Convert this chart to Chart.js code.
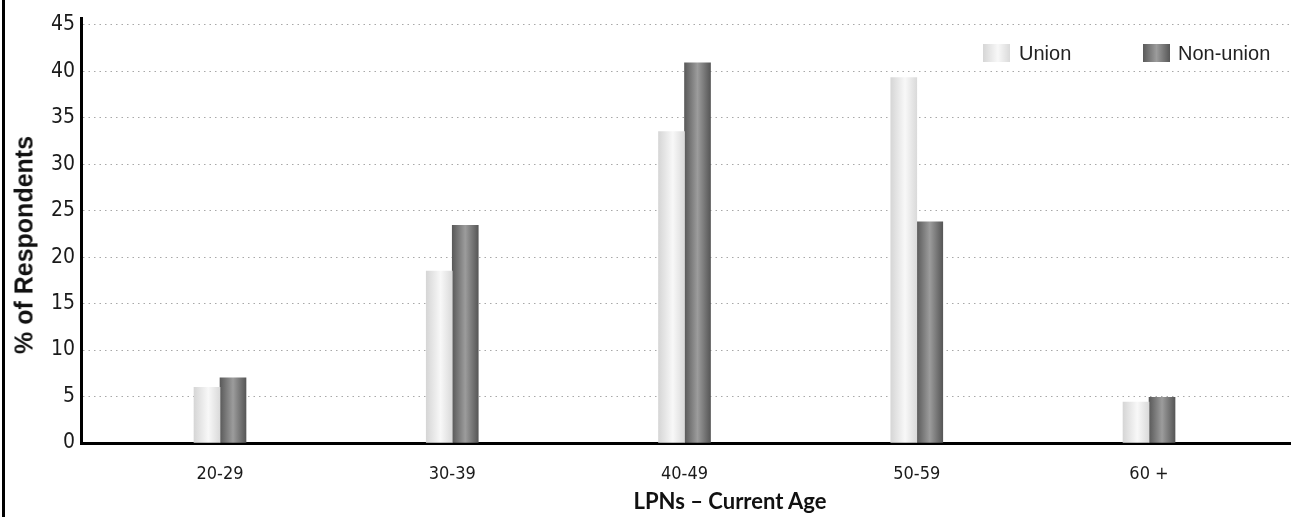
<!DOCTYPE html>
<html>
<head>
<meta charset="utf-8">
<script src="https://cdn.jsdelivr.net/npm/chart.js@4.4.0/dist/chart.umd.min.js"></script>
<style>
  body { margin: 0; background: #fff; }
  #wrap { position: relative; width: 1292px; height: 517px; }
  #chart { display: block; }
  #edge { position: absolute; left: 2px; top: 0; width: 3px; height: 517px; background: #000; }
  .lg-box { position: absolute; width: 27px; height: 18px; }
  .lg-txt { position: absolute; font: 20px 'Liberation Sans', sans-serif; color: #222; line-height: 20px; white-space: nowrap; }
  .ax-title { position: absolute; font: bold 22px Lato, 'Liberation Sans', sans-serif; color: #111; white-space: nowrap; transform: translate(-50%, -50%); }
  #yTitle { font: bold 25px 'Liberation Sans', sans-serif; transform: translate(-50%, -50%) rotate(-90deg); }
</style>
</head>
<body>
<div id="wrap">
  <canvas id="chart" width="1292" height="517"></canvas>
  <div id="edge"></div>
  <div id="legend"></div>
  <div class="ax-title" id="xTitle" style="left:730px; top:500px">LPNs – Current Age</div>
  <div class="ax-title" id="yTitle" style="left:24px; top:245px">% of Respondents</div>
</div>
<script>
const ageGroups = ['20-29', '30-39', '40-49', '50-59', '60 +']
const unionValues = [6.0, 18.5, 33.5, 39.3, 4.4]
const nonUnionValues = [7.0, 23.4, 40.9, 23.8, 4.9]
const seriesNames = ['Union', 'Non-union']
const yTicks = [0, 5, 10, 15, 20, 25, 30, 35, 40, 45]

const barW = 26
const gradStops = [
    [[0, '#d6d6d6'], [0.55, '#f8f8f8'], [1, '#dadada']],
    [[0, '#5a5a5a'], [0.5, '#9c9c9c'], [1, '#575757']]
]
const tickFont = "'Liberation Sans Narrow', 'DejaVu Sans Condensed', sans-serif"

function barGradient(ctx) {
    const chart = ctx.chart
    const xs = chart.scales.x
    const stops = gradStops[ctx.datasetIndex]
    if (!xs || !xs.width || ctx.type !== 'data') return stops[1][1]
    const cx = xs.getPixelForValue(ctx.dataIndex)
    const left = ctx.datasetIndex === 0 ? cx - barW : cx
    const g = chart.ctx.createLinearGradient(left, 0, left + barW, 0)
    stops.forEach(s => g.addColorStop(s[0], s[1]))
    return g
}

const toPoints = values => values.map((v, i) => ({x: i, y: v}))

new Chart('chart', {
    type: 'bar',
    data: {
        datasets: [
            {label: seriesNames[0], data: toPoints(unionValues), backgroundColor: barGradient, barThickness: barW},
            {label: seriesNames[1], data: toPoints(nonUnionValues), backgroundColor: barGradient, barThickness: barW}
        ]
    },
    options: {
        responsive: false,
        animation: false,
        layout: {padding: {left: 6, right: 2, top: 17, bottom: 2}},
        plugins: {legend: {display: false}, tooltip: {enabled: false}},
        scales: {
            x: {
                type: 'linear',
                offset: false,
                min: -0.5985,
                max: 4.607,
                afterFit: scale => { scale.height = 72 },
                afterBuildTicks: scale => { scale.ticks = ageGroups.map((_, i) => ({value: i})) },
                grid: {display: false, offset: false},
                border: {display: true, color: '#000', width: 3},
                ticks: {
                    padding: 13,
                    color: '#1a1a1a',
                    font: {family: tickFont, size: 18},
                    callback: v => ageGroups[v]
                }
            },
            y: {
                min: 0,
                max: 45.65,
                afterFit: scale => { scale.width = 75 },
                afterBuildTicks: scale => { scale.ticks = yTicks.map(v => ({value: v})) },
                grid: {color: '#a8a8a8', lineWidth: 1, drawTicks: false},
                border: {display: true, color: '#000', width: 3, dash: [1.5, 4]},
                ticks: {
                    padding: 6,
                    color: '#1a1a1a',
                    font: {family: tickFont, size: 21}
                }
            }
        }
    }
})

// legend drawn as html so it can sit inside the plot like the original
const legendPos = [{box: 983, txt: 1019}, {box: 1143, txt: 1178}]
const legendDiv = document.getElementById('legend')
seriesNames.forEach((name, i) => {
    const css = 'linear-gradient(to right, ' + gradStops[i].map(s => s[1] + ' ' + (s[0] * 100) + '%').join(', ') + ')'
    legendDiv.innerHTML += `
        <div class="lg-box" style="left:${legendPos[i].box}px; top:44px; background:${css}"></div>
        <div class="lg-txt" style="left:${legendPos[i].txt}px; top:43px">${name}</div>`
})
</script>
</body>
</html>
